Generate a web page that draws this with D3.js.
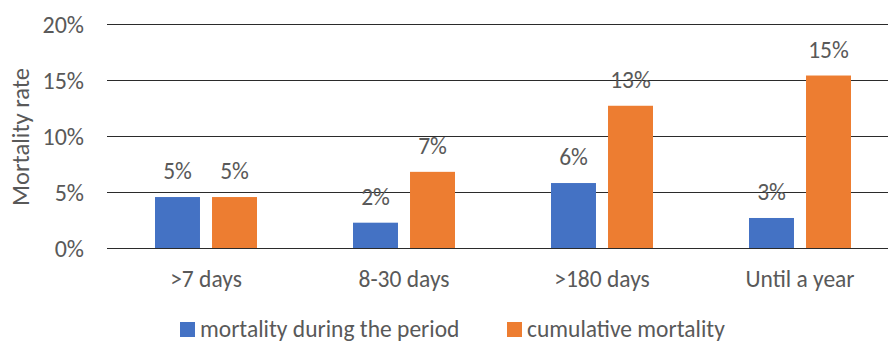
<!DOCTYPE html>
<html><head><meta charset="utf-8">
<script src="https://cdn.jsdelivr.net/npm/d3@7"></script>
<style>
html,body{margin:0;padding:0;background:#fff;overflow:hidden}
svg{display:block;font-family:Carlito,Calibri,Lato,sans-serif}
</style></head>
<body><svg id="c" width="888" height="342"></svg>
<script>
const categories = [">7 days", "8-30 days", ">180 days", "Until a year"];
const seriesNames = ["mortality during the period", "cumulative mortality"];
const periodValues = [0.0455, 0.0226, 0.058, 0.0268];
const cumulativeValues = [0.0455, 0.068, 0.127, 0.154];
const periodLabels = ["5%", "2%", "6%", "3%"];
const cumulativeLabels = ["5%", "7%", "13%", "15%"];
const yTicks = [0, 0.05, 0.10, 0.15, 0.20];
const yTitle = "Mortality rate";
const colors = ["#4472C4", "#ED7D31"];

(function () {
const svg = d3.select("#c");
const pLeft = 107, pRight = 899, pTop = 24, pBottom = 248;
const x0 = d3.scaleBand().domain(categories).range([pLeft, pRight]);
const x1 = d3.scaleBand().domain(seriesNames).range([-51, 51]).paddingInner(0.211);
const y = d3.scaleLinear().domain([0, 0.20]).range([pBottom, pTop]);
const textColor = "#595959";

svg.append("g").selectAll("line").data(yTicks).join("line")
  .attr("x1", pLeft).attr("x2", 888)
  .attr("y1", d => Math.round(y(d)) + 0.5).attr("y2", d => Math.round(y(d)) + 0.5)
  .attr("stroke", "#2b2b2b").attr("stroke-width", 1.2);

const fmt = d3.format(".0%");
svg.append("g").selectAll("text").data(yTicks).join("text")
  .attr("x", 84).attr("y", d => y(d)).attr("dy", "0.36em")
  .attr("text-anchor", "end").attr("fill", textColor).attr("font-size", 24)
  .text(d => fmt(d));

svg.append("text")
  .attr("transform", "translate(29,137) rotate(-90)")
  .attr("text-anchor", "middle").attr("fill", textColor).attr("font-size", 24.5)
  .text(yTitle);

const data = [periodValues, cumulativeValues];
const labels = [periodLabels, cumulativeLabels];
seriesNames.forEach((s, si) => {
  const g = svg.append("g");
  g.selectAll("rect").data(categories).join("rect")
    .attr("x", c => x0(c) + x0.bandwidth() / 2 + x1(s))
    .attr("width", x1.bandwidth())
    .attr("y", (c, i) => y(data[si][i]))
    .attr("height", (c, i) => pBottom - y(data[si][i]))
    .attr("fill", colors[si]);
  g.selectAll("text").data(categories).join("text")
    .attr("x", c => x0(c) + x0.bandwidth() / 2 + x1(s) + x1.bandwidth() / 2)
    .attr("y", (c, i) => y(data[si][i]) - 18)
    .attr("text-anchor", "middle").attr("fill", textColor).attr("font-size", 23.5)
    .text((c, i) => labels[si][i]);
});

svg.append("g").selectAll("text").data(categories).join("text")
  .attr("x", c => x0(c) + x0.bandwidth() / 2).attr("y", 287)
  .attr("text-anchor", "middle").attr("fill", textColor).attr("font-size", 23.5)
  .text(c => c);

const legendX = [180, 507];
const lg = svg.append("g");
seriesNames.forEach((s, i) => {
  lg.append("rect").attr("x", legendX[i]).attr("y", 322).attr("width", 15).attr("height", 15).attr("fill", colors[i]);
  lg.append("text").attr("x", legendX[i] + 20).attr("y", 336.5)
    .attr("fill", textColor).attr("font-size", 23.5).text(s);
});
})();
</script></body></html>
